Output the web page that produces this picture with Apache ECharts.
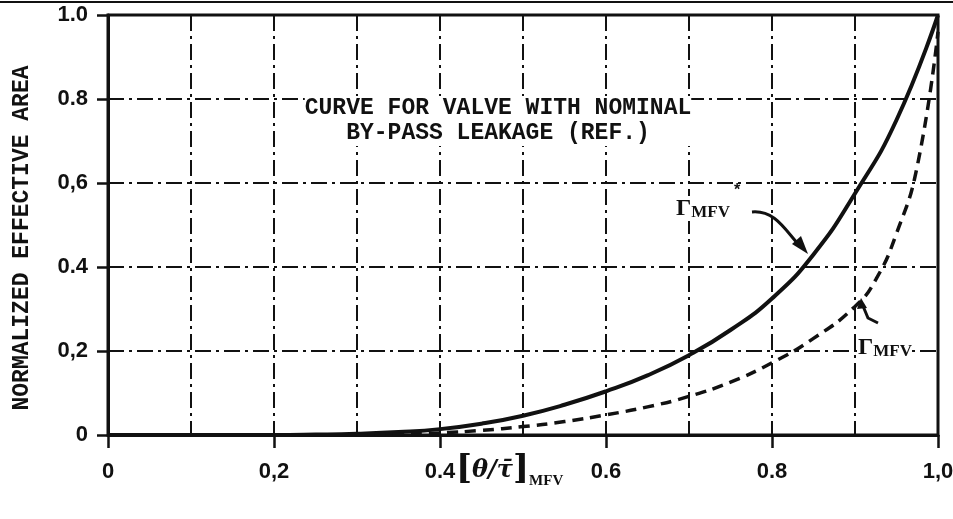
<!DOCTYPE html>
<html>
<head>
<meta charset="utf-8">
<script src="https://cdn.jsdelivr.net/npm/echarts@6/dist/echarts.min.js"></script>
<style>
  html, body { margin: 0; padding: 0; background: #fff; }
  #chart { width: 953px; height: 519px; }
</style>
</head>
<body>
<div id="chart"></div>
<script>
// values
const solidX = [0, 0.1, 0.2, 0.25, 0.3, 0.35, 0.4, 0.45, 0.5, 0.55, 0.6, 0.65, 0.7, 0.75, 0.8, 0.85, 0.9, 0.95, 1.0];
const solidY = [0, 0, 0, 0.001, 0.003, 0.007, 0.014, 0.027, 0.046, 0.072, 0.104, 0.142, 0.19, 0.25, 0.325, 0.43, 0.575, 0.75, 1.0];
const dashedX = [0.3, 0.35, 0.4, 0.45, 0.5, 0.55, 0.6, 0.65, 0.7, 0.75, 0.8, 0.85, 0.9, 0.925, 0.95, 0.975, 1.0];
const dashedY = [0, 0.002, 0.005, 0.011, 0.02, 0.032, 0.048, 0.067, 0.092, 0.126, 0.172, 0.23, 0.306, 0.37, 0.48, 0.64, 0.96];
const xTickLabels = ['0', '0,2', '0.4', '0.6', '0.8', '1,0'];
const yTickLabels = ['0', '0,2', '0.4', '0,6', '0.8', '1.0'];

const ink = '#111';
const labelFont = 'Liberation Sans';
const gridLine = { color: ink, width: 2, type: [16, 5, 3, 5] };
const gammaRich = {
  g: { font: 'bold 24px "Liberation Serif"', fill: ink },
  s: { font: 'bold 17px "Liberation Serif"', fill: ink, verticalAlign: 'bottom', padding: [8, 0, 0, 0] },
};

const chart = echarts.init(document.getElementById('chart'));
chart.setOption({
  animation: false,
  backgroundColor: '#fff',
  grid: {
    left: 108,
    right: 15,
    top: 15,
    bottom: 84,
    outerBoundsMode: 'none',
    show: true,
    borderColor: ink,
    borderWidth: 3,
  },
  xAxis: {
    type: 'value',
    min: 0,
    max: 1,
    interval: 0.2,
    axisLine: { lineStyle: { color: ink, width: 3 } },
    axisTick: { show: true, length: 13, lineStyle: { color: ink, width: 2.5 } },
    minorTick: { show: false, splitNumber: 2 },
    axisLabel: {
      color: ink,
      fontFamily: labelFont,
      fontWeight: 'bold',
      fontSize: 22,
      margin: 26,
      formatter: (v) => xTickLabels[Math.round(v * 5)],
    },
    splitLine: { show: true, lineStyle: gridLine },
    minorSplitLine: { show: true, lineStyle: gridLine },
  },
  yAxis: {
    type: 'value',
    min: 0,
    max: 1,
    interval: 0.2,
    axisLine: { show: true, lineStyle: { color: ink, width: 3 } },
    axisTick: { show: true, length: 11, lineStyle: { color: ink, width: 2.5 } },
    axisLabel: {
      color: ink,
      fontFamily: labelFont,
      fontWeight: 'bold',
      fontSize: 22,
      margin: 20,
      formatter: (v) => yTickLabels[Math.round(v * 5)],
    },
    splitLine: { show: true, lineStyle: gridLine },
  },
  series: [
    {
      name: 'solid',
      type: 'line',
      smooth: 0.5,
      symbol: 'none',
      lineStyle: { color: ink, width: 4 },
      data: solidX.map((x, i) => [x, solidY[i]]),
      z: 5,
    },
    {
      name: 'dashed',
      type: 'line',
      smooth: 0.5,
      symbol: 'none',
      lineStyle: { color: ink, width: 3.5, type: [11, 7] },
      data: dashedX.map((x, i) => [x, dashedY[i]]),
      z: 5,
    },
  ],
  graphic: [
    // scan edge along the top
    { type: 'line', shape: { x1: 0, y1: 2, x2: 953, y2: 2 }, style: { stroke: ink, lineWidth: 2 } },
    {
      type: 'text',
      x: 22,
      y: 238,
      rotation: Math.PI / 2,
      style: {
        text: 'NORMALIZED EFFECTIVE AREA',
        x: 0,
        y: 0,
        textAlign: 'center',
        textVerticalAlign: 'middle',
        font: 'bold 23px "Liberation Mono"',
        fill: ink,
      },
    },
    {
      type: 'text',
      style: {
        text: 'CURVE FOR VALVE WITH NOMINAL\nBY-PASS LEAKAGE (REF.)',
        x: 498,
        y: 96,
        textAlign: 'center',
        font: 'bold 23px "Liberation Mono"',
        lineHeight: 25,
        fill: ink,
        backgroundColor: '#fff',
      },
      z: 10,
    },
    {
      type: 'text',
      style: { text: '{g|Γ}{s|MFV}', x: 676, y: 196, fill: ink, backgroundColor: '#fff', rich: gammaRich },
      z: 10,
    },
    { type: 'text', style: { text: '*', x: 734, y: 183, font: 'bold 16px sans-serif', fill: ink }, z: 10 },
    {
      type: 'bezierCurve',
      shape: { x1: 752, y1: 212, x2: 799, y2: 245, cpx1: 775, cpy1: 210, cpx2: 785, cpy2: 230 },
      style: { stroke: ink, lineWidth: 3, fill: null },
      z: 10,
    },
    { type: 'polygon', shape: { points: [[808, 254], [792, 244], [801, 236]] }, style: { fill: ink }, z: 10 },
    {
      type: 'text',
      style: { text: '{g|Γ}{s|MFV}', x: 858, y: 335, fill: ink, backgroundColor: '#fff', rich: gammaRich },
      z: 10,
    },
    {
      type: 'polyline',
      shape: { points: [[878, 323], [868, 318], [863, 306]] },
      style: { stroke: ink, lineWidth: 3, fill: null },
      z: 10,
    },
    { type: 'polygon', shape: { points: [[861, 298], [857, 309], [867, 308]] }, style: { fill: ink }, z: 10 },
    // x axis quantity
    {
      type: 'text',
      style: {
        text: '{b|[}{t|θ/τ̄}{b|]}{s|MFV}',
        x: 456,
        y: 452,
        fill: ink,
        backgroundColor: 'transparent',
        rich: {
          b: { font: 'bold 34px "DejaVu Serif"', fill: ink },
          t: { font: 'italic bold 24px "DejaVu Serif"', fill: ink },
          s: { font: 'bold 15px "Liberation Serif"', fill: ink, verticalAlign: 'bottom', padding: [22, 0, 0, 0] },
        },
      },
      z: 10,
    },
  ],
});
</script>
</body>
</html>
